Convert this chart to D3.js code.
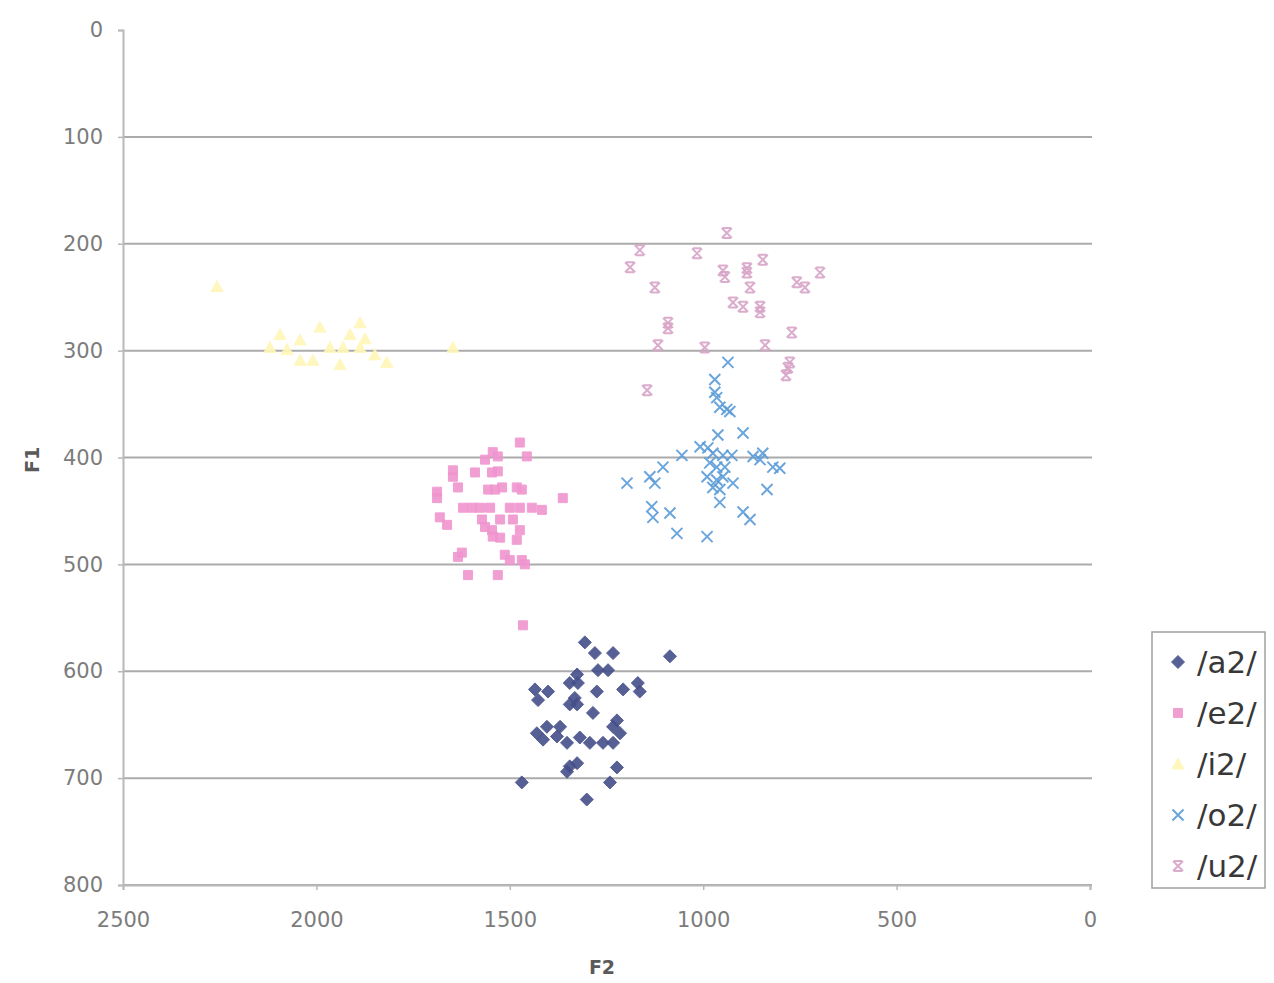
<!DOCTYPE html>
<html>
<head>
<meta charset="utf-8">
<script src="https://cdn.jsdelivr.net/npm/d3@7"></script>
<style>
  body { margin: 0; background: #fff; }
  text { font-family: "DejaVu Sans", sans-serif; }
</style>
</head>
<body>
<svg id="chart" width="1274" height="983"></svg>
<script>
// [F2, F1] pairs
const a2 = [[1306,573],[1280,583],[1233,583],[1086,586],[1272,599],[1246,599],[1326,603],[1345,611],[1324,611],
  [1275,619],[1207,617],[1169,611],[1164,619],[1435,617],[1401,619],[1427,627],[1332,625],[1326,631],[1345,631],
  [1285,639],[1223,646],[1233,652],[1215,658],[1404,652],[1370,652],[1430,658],[1414,664],[1378,661],[1352,667],
  [1319,662],[1293,667],[1259,667],[1233,667],[1345,689],[1326,686],[1352,694],[1223,690],[1241,704],[1469,704],[1301,720]];
const e2 = [[1474,386],[1456,399],[1544,395],[1531,399],[1564,402],[1647,412],[1647,418],[1590,414],[1546,414],
  [1531,413],[1688,432],[1688,438],[1634,428],[1556,430],[1538,430],[1520,428],[1482,428],[1469,430],[1363,438],
  [1621,447],[1598,447],[1577,447],[1551,447],[1500,447],[1474,447],[1443,447],[1417,449],[1681,456],[1662,463],
  [1572,458],[1564,465],[1546,468],[1525,458],[1492,458],[1474,468],[1482,477],[1544,474],[1525,475],[1624,489],
  [1634,493],[1513,491],[1500,496],[1469,496],[1461,500],[1608,510],[1531,510],[1466,557]];
const i2 = [[2257,240],[2120,297],[2076,299],[2042,290],[2009,309],[1991,278],[1965,297],[1931,297],[1913,285],
  [1887,274],[1887,297],[1849,304],[1818,311],[2042,309],[2094,285],[1647,297],[1939,313],[1874,289]];
const o2 = [[936,311],[970,327],[970,339],[965,344],[957,353],[939,355],[931,357],[962,379],[897,377],[1008,390],
  [988,391],[1055,398],[975,396],[949,398],[926,398],[871,399],[853,402],[846,396],[820,409],[802,410],[983,405],
  [965,409],[944,409],[1104,409],[1138,418],[1125,424],[1197,424],[990,418],[965,421],[949,418],[923,424],[835,430],
  [975,428],[957,430],[1133,446],[1130,456],[1086,452],[957,442],[897,451],[879,458],[1068,471],[990,474]];
const u2 = [[939,190],[1164,206],[1189,222],[1016,209],[949,225],[944,231],[887,223],[887,227],[846,215],[879,241],
  [1125,241],[698,227],[758,236],[737,241],[923,255],[897,259],[853,259],[853,264],[1091,274],[1091,279],[771,283],
  [1117,295],[996,297],[840,295],[776,311],[781,316],[786,323],[1145,337]];

const seriesNames = ["/a2/", "/e2/", "/i2/", "/o2/", "/u2/"];
const seriesData = [a2, e2, i2, o2, u2];
const seriesColors = ["#454f8a", "#f095cf", "#fff7b8", "#5a9bd8", "#d7a3c6"];
const seriesShapes = ["diamond", "square", "triangle", "cross", "star"];
const xTicks = [2500, 2000, 1500, 1000, 500, 0];
const yTicks = [0, 100, 200, 300, 400, 500, 600, 700, 800];

const svg = d3.select("#chart");
const x = d3.scaleLinear().domain([2500, 0]).range([123, 1090]);
const y = d3.scaleLinear().domain([0, 800]).range([30, 885]);

// gridlines
svg.append("g").selectAll("line")
  .data(yTicks.filter(d => d > 0))
  .enter().append("line")
  .attr("x1", x(2500)).attr("x2", x(0) + 2)
  .attr("y1", d => y(d)).attr("y2", d => y(d))
  .attr("stroke", "#ababab").attr("stroke-width", 2);

// axes
const yAxis = svg.append("g")
  .attr("transform", "translate(" + x(2500) + ",0)")
  .call(d3.axisLeft(y).tickValues(yTicks).tickFormat(d3.format("d")).tickSize(5).tickPadding(15));
const xAxis = svg.append("g")
  .attr("transform", "translate(0," + y(800) + ")")
  .call(d3.axisBottom(x).tickValues(xTicks).tickFormat(d3.format("d")).tickSize(5).tickPadding(22));
[yAxis, xAxis].forEach(a => {
  a.select(".domain").attr("stroke", "#b8b8b8").attr("stroke-width", 2);
  a.selectAll(".tick line").attr("stroke", "#b8b8b8").attr("stroke-width", 1.5);
  a.selectAll("text").attr("fill", "#7c7c7c").style("font-size", "21px")
    .style("font-family", "'DejaVu Sans', sans-serif");
});

svg.append("text")
  .attr("x", 602).attr("y", 974)
  .attr("text-anchor", "middle")
  .attr("fill", "#5a5a5a").style("font-size", "19px").style("font-weight", "bold")
  .text("F2");
svg.append("text")
  .attr("text-anchor", "middle")
  .attr("transform", "translate(39,460)rotate(-90)")
  .attr("fill", "#5a5a5a").style("font-size", "19px").style("font-weight", "bold")
  .text("F1");

// marker shapes
function markerPath(shape) {
  switch (shape) {
    case "diamond": return "M0,-6.5L6.5,0L0,6.5L-6.5,0Z";
    case "square": return "M-4.5,-4.5H4.5V4.5H-4.5Z";
    case "triangle": return "M0,-6L6,5H-6Z";
    case "cross": return "M-5.5,-5.5L5.5,5.5M5.5,-5.5L-5.5,5.5";
    case "star": return "M-5,-5L5,5M5,-5L-5,5M-4,-5H4M-4,5H4";
  }
}
function drawMarker(sel, i) {
  const shape = seriesShapes[i], color = seriesColors[i];
  const open = shape === "cross" || shape === "star";
  sel.append("path")
    .attr("d", markerPath(shape))
    .attr("fill", open ? "none" : color)
    .attr("stroke", color)
    .attr("stroke-width", open ? 2 : 1)
    .attr("opacity", 0.9);
}

seriesData.forEach((data, i) => {
  const g = svg.append("g").attr("class", "series" + i);
  g.selectAll("g").data(data).enter().append("g")
    .attr("transform", d => "translate(" + x(d[0]) + "," + y(d[1]) + ")")
    .each(function () { drawMarker(d3.select(this), i); });
});

// legend
const legend = svg.append("g");
legend.append("rect")
  .attr("x", 1152).attr("y", 632).attr("width", 113).attr("height", 256)
  .attr("fill", "#fff").attr("stroke", "#a0a0a0").attr("stroke-width", 1.5);
seriesNames.forEach((name, i) => {
  const cy = 662 + i * 51;
  const item = legend.append("g").attr("transform", "translate(1178," + cy + ")");
  drawMarker(item, i);
  legend.append("text")
    .attr("x", 1197).attr("y", cy + 11)
    .attr("fill", "#383838").style("font-size", "31px")
    .text(name);
});
</script>
</body>
</html>
